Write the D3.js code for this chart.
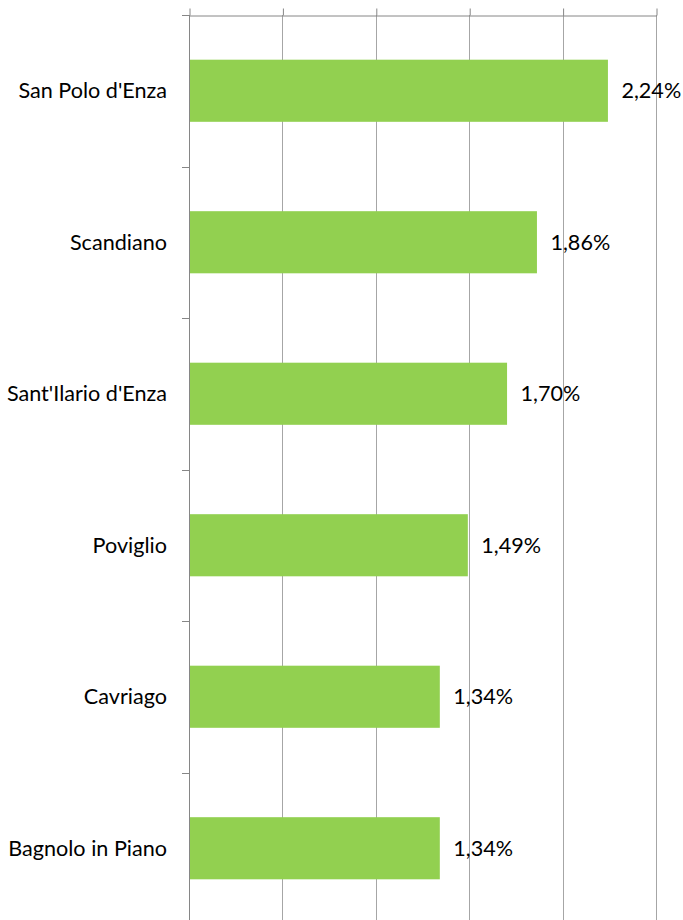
<!DOCTYPE html>
<html><head><meta charset="utf-8">
<script src="https://cdn.jsdelivr.net/npm/d3@7"></script>
<style>html,body{margin:0;padding:0;background:#fff;}svg{display:block;}</style>
</head><body>
<script>
const categories = ["San Polo d'Enza","Scandiano","Sant'Ilario d'Enza","Poviglio","Cavriago","Bagnolo in Piano"];
const values = [2.24,1.86,1.70,1.49,1.34,1.34];
const labels = ["2,24%","1,86%","1,70%","1,49%","1,34%","1,34%"];
const xTicks = [0,0.5,1,1.5,2,2.5];

const W=683,H=920;
const m={top:15,left:189,right:27,bottom:-4};
const svg=d3.select("body").append("svg").attr("width",W).attr("height",H);
const x=d3.scaleLinear().domain([0,2.5]).range([m.left,W-m.right]);
const y=d3.scaleBand().domain(categories).range([m.top,H-m.bottom]).paddingInner(0.59).paddingOuter(0.295);
const font="Lato, Carlito, sans-serif";

// gridlines
svg.append("g").selectAll("line").data(xTicks.slice(1)).join("line")
  .attr("x1",d=>Math.round(x(d))+0.5).attr("x2",d=>Math.round(x(d))+0.5)
  .attr("y1",m.top).attr("y2",H)
  .attr("stroke","#a6a6a6").attr("stroke-width",1);

// top axis
const gx=svg.append("g").attr("transform",`translate(0.5,${m.top+0.5})`)
  .call(d3.axisTop(x).tickValues(xTicks).tickSize(7).tickSizeOuter(0).tickFormat(""));
gx.select(".domain").attr("stroke","#868686");
gx.selectAll(".tick line").attr("stroke","#868686");

// bars
svg.append("g").selectAll("rect").data(values).join("rect")
  .attr("x",x(0)+0.5).attr("y",(d,i)=>y(categories[i]))
  .attr("width",d=>x(d)-x(0)).attr("height",y.bandwidth())
  .attr("fill","#92d050");

// left axis line and ticks at band boundaries
const step=y.step();
const bounds=d3.range(categories.length+1).map(i=>m.top+i*step);
svg.append("line").attr("x1",m.left+0.5).attr("x2",m.left+0.5).attr("y1",m.top).attr("y2",H)
  .attr("stroke","#868686");
svg.append("g").selectAll("line").data(bounds).join("line")
  .attr("x1",m.left-7).attr("x2",m.left+0.5)
  .attr("y1",d=>Math.round(d)+0.5).attr("y2",d=>Math.round(d)+0.5)
  .attr("stroke","#868686");

// category labels
svg.append("g").selectAll("text").data(categories).join("text")
  .attr("x",167).attr("y",d=>y(d)+y.bandwidth()/2).attr("dy","0.35em")
  .attr("text-anchor","end").attr("font-family",font).attr("font-size",21.6)
  .attr("fill","#000").text(d=>d);

// value labels
svg.append("g").selectAll("text").data(values).join("text")
  .attr("x",d=>x(d)+14).attr("y",(d,i)=>y(categories[i])+y.bandwidth()/2).attr("dy","0.35em")
  .attr("font-family",font).attr("font-size",21.6).attr("fill","#000")
  .text((d,i)=>labels[i]);
</script>
</body></html>
